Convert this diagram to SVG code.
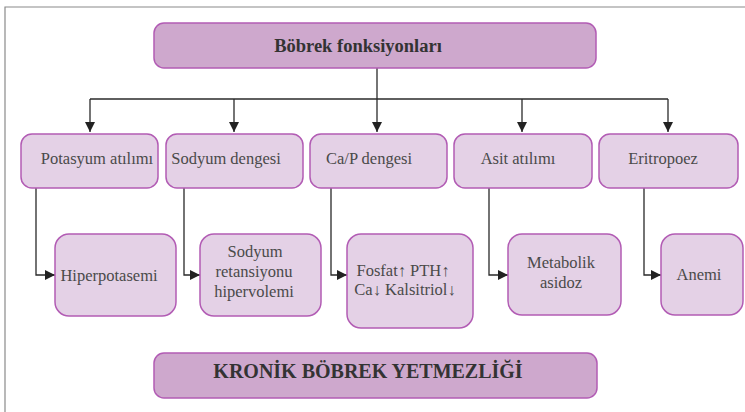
<svg xmlns="http://www.w3.org/2000/svg" width="745" height="412" viewBox="0 0 745 412">
  <defs>
    <marker id="arrow" viewBox="0 0 10 10" refX="10" refY="5" markerWidth="10" markerHeight="10" markerUnits="userSpaceOnUse" orient="auto">
      <path d="M0,0 L10,5 L0,10 Z" fill="#222"/>
    </marker>
    <style>
      .frame { stroke: #8a8a8a; stroke-width: 1.2; fill: none; }
      .main { fill: #cea8cd; stroke: #b25cb4; stroke-width: 1.5; }
      .sub { fill: #e4d1e6; stroke: #b25cb4; stroke-width: 1.5; }
      .link { stroke: #2a2a2a; stroke-width: 1.3; fill: none; }
      .head { font-family: "Liberation Serif", "Times New Roman", serif; font-weight: bold; fill: #333; text-anchor: middle; }
      .lbl { font-family: "Liberation Serif", "Times New Roman", serif; font-size: 16.5px; fill: #4a4a4a; text-anchor: middle; }
    </style>
  </defs>

  <rect x="0" y="0" width="745" height="412" fill="#ffffff"/>
  <!-- page frame -->
  <polyline class="frame" points="745,7 5,7 5,412"/>

  <!-- connectors -->
  <g id="connectors">
    <line class="link" x1="377" y1="68" x2="377" y2="99"/>
    <line class="link" x1="90" y1="99" x2="668" y2="99"/>
    <line class="link" x1="90" y1="99" x2="90" y2="132" marker-end="url(#arrow)"/>
    <line class="link" x1="234" y1="99" x2="234" y2="132" marker-end="url(#arrow)"/>
    <line class="link" x1="377" y1="99" x2="377" y2="132" marker-end="url(#arrow)"/>
    <line class="link" x1="522" y1="99" x2="522" y2="132" marker-end="url(#arrow)"/>
    <line class="link" x1="668" y1="99" x2="668" y2="132" marker-end="url(#arrow)"/>
    <polyline class="link" points="36,188 36,275 55,275" marker-end="url(#arrow)"/>
    <polyline class="link" points="184,188 184,275 200,275" marker-end="url(#arrow)"/>
    <polyline class="link" points="331,188 331,275 347,275" marker-end="url(#arrow)"/>
    <polyline class="link" points="489,188 489,275 508,275" marker-end="url(#arrow)"/>
    <polyline class="link" points="644,188 644,275 661,275" marker-end="url(#arrow)"/>
  </g>

  <!-- top node -->
  <g id="bobrek-fonksiyonlari">
    <rect class="main" x="154" y="23" width="442" height="45" rx="10"/>
    <text class="head" x="358" y="52" font-size="18.5">Böbrek fonksiyonları</text>
  </g>

  <!-- function nodes -->
  <g id="potasyum-atilimi">
    <rect class="sub" x="21" y="134" width="137" height="54" rx="11"/>
    <text class="lbl" x="97" y="164">Potasyum atılımı</text>
  </g>
  <g id="sodyum-dengesi">
    <rect class="sub" x="166" y="134" width="137" height="54" rx="11"/>
    <text class="lbl" x="226" y="164">Sodyum dengesi</text>
  </g>
  <g id="cap-dengesi">
    <rect class="sub" x="310" y="134" width="137" height="54" rx="11"/>
    <text class="lbl" x="369" y="164">Ca/P dengesi</text>
  </g>
  <g id="asit-atilimi">
    <rect class="sub" x="454" y="134" width="138" height="54" rx="11"/>
    <text class="lbl" x="518" y="164">Asit atılımı</text>
  </g>
  <g id="eritropoez">
    <rect class="sub" x="599" y="134" width="139" height="54" rx="11"/>
    <text class="lbl" x="663" y="164">Eritropoez</text>
  </g>

  <!-- consequence nodes -->
  <g id="hiperpotasemi">
    <rect class="sub" x="55" y="234" width="121" height="82" rx="14"/>
    <text class="lbl" x="109" y="281">Hiperpotasemi</text>
  </g>
  <g id="sodyum-retansiyonu">
    <rect class="sub" x="200" y="234" width="121" height="82" rx="14"/>
    <text class="lbl" x="255" y="257">Sodyum</text>
    <text class="lbl" x="254" y="277">retansiyonu</text>
    <text class="lbl" x="254" y="297">hipervolemi</text>
  </g>
  <g id="fosfat-pth">
    <rect class="sub" x="347" y="234" width="126" height="94" rx="14"/>
    <text class="lbl" x="403" y="276">Fosfat↑ PTH↑</text>
    <text class="lbl" x="405" y="295">Ca↓ Kalsitriol↓</text>
  </g>
  <g id="metabolik-asidoz">
    <rect class="sub" x="508" y="234" width="113" height="81" rx="14"/>
    <text class="lbl" x="561" y="268">Metabolik</text>
    <text class="lbl" x="561" y="288">asidoz</text>
  </g>
  <g id="anemi">
    <rect class="sub" x="661" y="234" width="82" height="81" rx="14"/>
    <text class="lbl" x="699" y="280">Anemi</text>
  </g>

  <!-- bottom node -->
  <g id="kronik-bobrek-yetmezligi">
    <rect class="main" x="154" y="353" width="443" height="45" rx="10"/>
    <text class="head" x="368" y="378" font-size="20">KRONİK BÖBREK YETMEZLİĞİ</text>
  </g>
</svg>
